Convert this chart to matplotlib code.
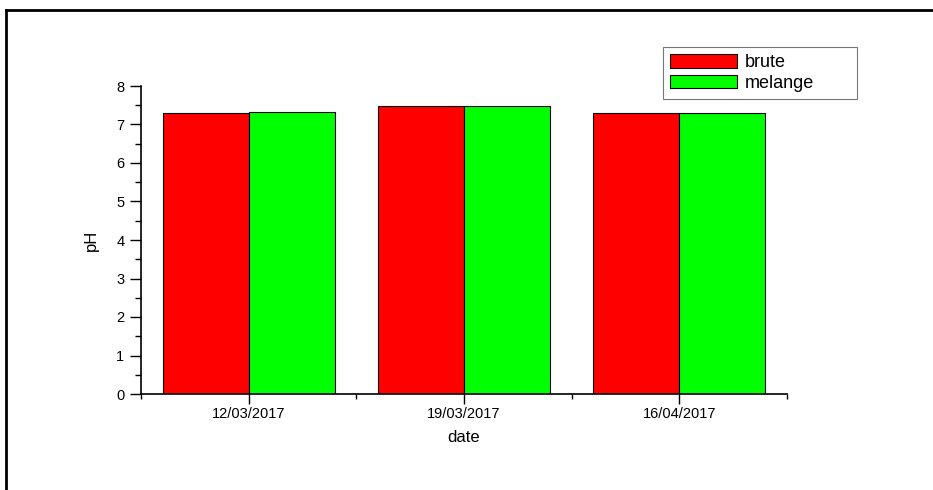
import numpy as np
import matplotlib
matplotlib.use("Agg")
import matplotlib.pyplot as plt
from matplotlib.lines import Line2D
from matplotlib.ticker import FixedLocator

# --- Data ---
dates = ["12/03/2017", "19/03/2017", "16/04/2017"]
brute = [7.29, 7.48, 7.30]
melange = [7.33, 7.48, 7.30]

plt.rcParams['font.family'] = ['Liberation Sans', 'DejaVu Sans']

fig = plt.figure(figsize=(9.33, 4.9), dpi=100)
ax = fig.add_axes([141/933, 1 - 394/490, (787 - 141)/933, (394 - 86)/490])

x = np.arange(len(dates))
w = 0.4
ax.bar(x - w/2, brute, width=w, color='#ff0000', edgecolor='black',
       linewidth=0.8, label='brute')
ax.bar(x + w/2, melange, width=w, color='#00ff00', edgecolor='black',
       linewidth=0.8, label='melange')

ax.set_xlim(-0.5, 2.5)
ax.set_ylim(0, 8)
ax.set_xticks(x)
ax.set_xticklabels(dates)
ax.xaxis.set_minor_locator(FixedLocator([-0.5, 0.5, 1.5, 2.5]))
ax.set_yticks(range(0, 9))
ax.yaxis.set_minor_locator(FixedLocator(np.arange(0.5, 8, 1.0)))

ax.tick_params(axis='x', which='major', direction='out', length=7, width=1,
               labelsize=10.5, pad=2)
ax.tick_params(axis='x', which='minor', direction='out', length=3.5, width=1)
ax.tick_params(axis='y', which='major', direction='out', length=8, width=1,
               labelsize=10.5, pad=4)
ax.tick_params(axis='y', which='minor', direction='out', length=4.5, width=1)

ax.spines['top'].set_visible(False)
ax.spines['right'].set_visible(False)
for s in ('left', 'bottom'):
    ax.spines[s].set_linewidth(1.2)

ax.set_xlabel("date", fontsize=12, labelpad=7)
ax.set_ylabel("pH", fontsize=12, labelpad=12)

# legend box stretched to the reference width
leg = ax.legend(loc='upper left',
                bbox_to_anchor=(663/933, 1 - 98/490, (857 - 663)/933, 51/490),
                bbox_transform=fig.transFigure, mode='expand',
                fontsize=13, fancybox=False,
                edgecolor='#555555', handlelength=3.7, handleheight=0.75,
                handletextpad=0.45, labelspacing=0.2, borderpad=0.4,
                borderaxespad=0)
leg.get_frame().set_linewidth(0.8)

# page frame (top and left edges visible)
fig.add_artist(Line2D([6/933, 1.0], [1 - 10/490, 1 - 10/490],
                      transform=fig.transFigure, color='black', linewidth=2))
fig.add_artist(Line2D([6/933, 6/933], [0.0, 1 - 10/490],
                      transform=fig.transFigure, color='black', linewidth=2))

fig.savefig("out.png", dpi=100)
